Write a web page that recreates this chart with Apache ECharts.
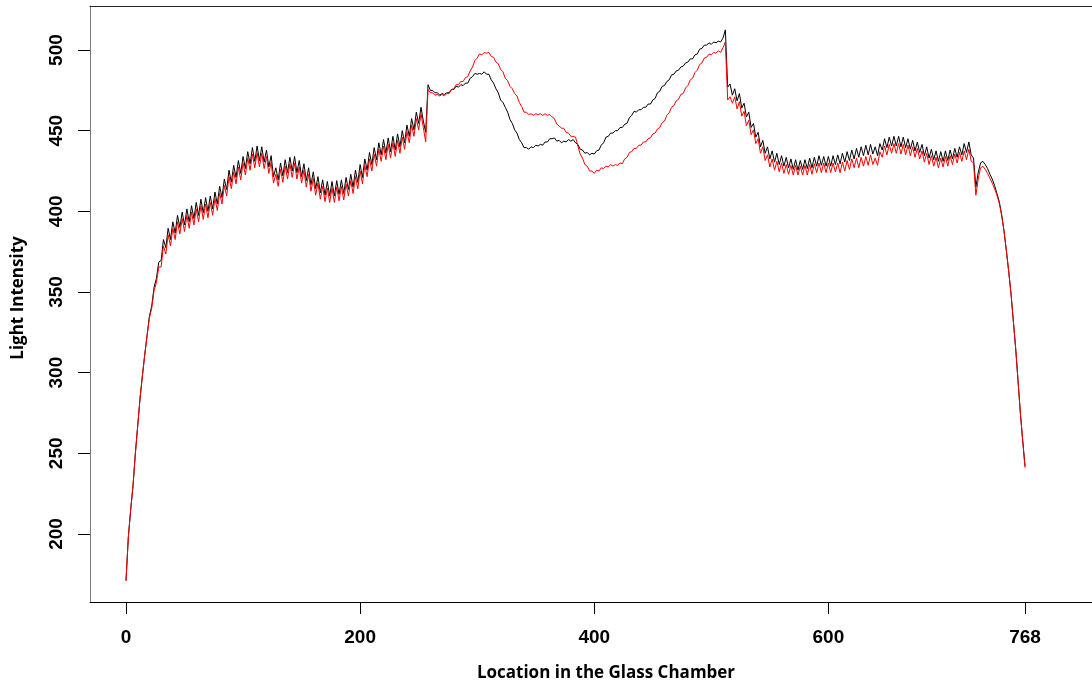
<!DOCTYPE html>
<html>
<head>
<meta charset="utf-8">
<script src="https://cdn.jsdelivr.net/npm/echarts@6/dist/echarts.min.js"></script>
<style>
  html, body { margin: 0; padding: 0; background: #fff; }
  #chart { width: 1092px; height: 683px; }
</style>
</head>
<body>
<div id="chart"></div>
<script>
// Light intensity sampled every STEP units along the glass chamber (0 .. 768)
const STEP = 2;
const xTicks = [0, 200, 400, 600, 768];
const yTicks = [200, 250, 300, 350, 400, 450, 500];
const xTitle = 'Location in the Glass Chamber';
const yTitle = 'Light Intensity';

// first measurement (black)
const intensityA = [
  171,198,215,230,250,267,284,298,311,323,
  335,341.5,353,358.5,368.5,369.5,382.5,377.5,389.5,382.5,
  393.5,386.5,397.5,390,399.5,391.5,401.5,393.5,403.5,395.5,
  405.5,397.5,407.5,399,408.5,400,409.5,401.5,412,404.5,
  415.5,408.5,420,413.5,425.5,418,428.5,421,431.5,423.5,
  434,426.5,437,429.5,439.5,431,440.5,431.5,440,430.5,
  438,427.5,434.5,421.5,427,419.5,430,422,432,424,
  433.5,425,434,424,431.5,421.5,429.5,419,427,416.5,
  424.5,414,421.5,411.5,419.5,410,418.5,409.5,418.5,409.5,
  419,410.5,419.5,411,421,413.5,423,415,425.5,418,
  429,421,432.5,425.5,436.5,429,439.5,432,442.5,435,
  444.5,436,445.5,437,446.5,438,448,440,450,442.5,
  453.5,446.5,457.5,450.5,461.5,454.5,464.5,456,449,478.5,
  475,475,473.5,473.5,472,473,472.5,473.5,473.5,475.5,
  475.5,477.5,477,478.5,478,479.5,479.5,482.5,483.5,485.5,
  485,485.5,485,486.5,485,485,481.5,479.5,476,473.5,
  469,467.5,464.5,461.5,457,454.5,450.5,448.5,444.5,442.5,
  439.5,439.5,438.5,440,439.5,441,440.5,441.5,441,443,
  443,445,445,445.5,443.5,444,442.5,443.5,443,444.5,
  443.5,444.5,442.5,441.5,438.5,438,436,436.5,435,436,
  435.5,437.5,438,441,442.5,446,446.5,448.5,448.5,450,
  450,452,452,454,454.5,458,459.5,462,461.5,463,
  463,464.5,464.5,466.5,466.5,469,470,473.5,474.5,477.5,
  478,480.5,481.5,484.5,485,487,487.5,489.5,490,492,
  492.5,494.5,494.5,497,497.5,500.5,501,503,503,504.5,
  503.5,505,504.5,505.5,505,507.5,512.5,477,479,472,
  476,468.5,473,464,467,458.5,461.5,452,454.5,446,
  449,440,444,436,440,432.5,437.5,430.5,436,429,
  434.5,428,433.5,427,432.5,426,432,425.5,431.5,426,
  432,426.5,433,427,433.5,428,434.5,428.5,434,428,
  434,428,434.5,429,435,429.5,436,430.5,437,431.5,
  438,432.5,439,433.5,440,434.5,441,435,441.5,435.5,
  440,434.5,442,438,445,439.5,446,440.5,446.5,440.5,
  446.5,440,446,439.5,445,438.5,444,437.5,443,436.5,
  441.5,434.5,440,433,438.5,432,437.5,431,437,431,
  437.5,431.5,438,432.5,439,433.5,440,435,442,436.5,
  443,435,433,415,424,430,431,429,426.5,423,
  420,416,411,406,398,388,376,363,349,332,
  315,295,275,258,242
];

// second measurement (red)
const intensityB = [
  171,198,215,230,250,267,284,298,311,323,
  334,340,351,356,365.5,365.5,378.5,373.5,385.5,378.5,
  389.5,382.5,393.5,386,395.5,387.5,397.5,389.5,399.5,391.5,
  401.5,393.5,403.5,395,404.5,396,405.5,397.5,408,400.5,
  411.5,404.5,416,409.5,421.5,414,424.5,417,427.5,419.5,
  430,422.5,433,425.5,435.5,427,436.5,427.5,436,426.5,
  434,423.5,430.5,417.5,423,415.5,426,418,428,420,
  429.5,421,430,420,427.5,417.5,425.5,415,423,412.5,
  420.5,410,417.5,407.5,415.5,406,414.5,405.5,414.5,405.5,
  415,406.5,415.5,407,417,409.5,419,411,421.5,414,
  425,417,428.5,421.5,432.5,425,435.5,428,438.5,431,
  440.5,432,441.5,433,442.5,434,444,436,446,438.5,
  449.5,442.5,453.5,446.5,457.5,450.5,460.5,452,443,475.5,
  473.5,473.5,472,472.5,471.5,472.5,471.5,473,473,475.5,
  476,478.5,478.5,480.5,480.5,483,483.5,487,489.5,493.5,
  495,497.5,497,498.5,498,498.5,496,495.5,492.5,491.5,
  488,486.5,482.5,481,477.5,476,473,471.5,467.5,465,
  461.5,461.5,460,460.5,459.5,460.5,460,460.5,459.5,460.5,
  459.5,460,458.5,457.5,454,453,451.5,451.5,449,448.5,
  446.5,446.5,446,440.5,435.5,433,429,428,425,425,
  423.5,425.5,425,427,426.5,428,427.5,429,428,429,
  428.5,430,429.5,432.5,433.5,436.5,437,439,439,441,
  441,443,443,445,445.5,448,448.5,451,452,455,
  456,459.5,461,464.5,465.5,468.5,469.5,472.5,473,476.5,
  478,481.5,482.5,486,487.5,491,492,495,495.5,497.5,
  497,498.5,498,499.5,498.5,501.5,505,469,471,467,
  471,463.5,468,459,462,453,456.5,447.5,450.5,442,
  445,436,440,431.5,435,427.5,432.5,425.5,431,424.5,
  430,423.5,429,423,428.5,422.5,428.5,422.5,428,422.5,
  428.5,422.5,429,423,429.5,424,430,424,430,424,
  430,424,430,424.5,430,424,430.5,425,431.5,426,
  432.5,427,433,427,433.5,428,434,428.5,435,429,
  433,428.5,437,433.5,440.5,435,441.5,436,442,436,
  442,435.5,441.5,435,441,434.5,440,433.5,439,432.5,
  437.5,430.5,436,429,434.5,428,433.5,427,433,427.5,
  434,428,434.5,429,435.5,430,436.5,431,437.5,432,
  438.5,431,430,410,420,427,428,426,423.5,420.5,
  417.5,414,410,405,397.5,388,376,363,349,332,
  315,295,275,258,241
];

const toPoints = arr => arr.map((v, i) => [i * STEP, v]);

const tickFont = { fontFamily: 'Liberation Sans', fontWeight: 'bold', fontSize: 19, color: '#000' };

const chart = echarts.init(document.getElementById('chart'), null, { renderer: 'canvas' });

chart.setOption({
  animation: false,
  backgroundColor: '#fff',
  grid: { left: 90, right: 0, top: 6, bottom: 81, containLabel: false },
  xAxis: [
    {
      type: 'value',
      min: -30.75,
      max: 825.2,
      position: 'bottom',
      splitLine: { show: false },
      axisLine: { show: true, onZero: false, lineStyle: { color: '#000', width: 1 } },
      axisTick: { show: true, customValues: xTicks, length: 12, inside: false, lineStyle: { color: '#000' } },
      axisLabel: Object.assign({ customValues: xTicks, margin: 26 }, tickFont)
    },
    {
      type: 'value',
      min: -30.75,
      max: 825.2,
      position: 'top',
      splitLine: { show: false },
      axisLine: { show: true, onZero: false, lineStyle: { color: '#222', width: 1 } },
      axisTick: { show: false },
      axisLabel: { show: false }
    }
  ],
  yAxis: {
    type: 'value',
    min: 157.8,
    max: 527.3,
    splitLine: { show: false },
    axisLine: { show: true, onZero: false, lineStyle: { color: '#777', width: 1 } },
    axisTick: { show: true, customValues: yTicks, length: 12, lineStyle: { color: '#000' } },
    axisLabel: Object.assign({ customValues: yTicks, rotate: 90, margin: 24 }, tickFont)
  },
  graphic: [
    {
      type: 'text',
      x: 606, y: 673,
      style: {
        text: xTitle, align: 'center', verticalAlign: 'middle',
        font: 'bold 17px "Open Sans"', fill: '#000'
      }
    },
    {
      type: 'text',
      x: 18, y: 298,
      rotation: Math.PI / 2,
      style: {
        text: yTitle, align: 'center', verticalAlign: 'middle',
        font: 'bold 17px "Open Sans"', fill: '#000'
      }
    }
  ],
  series: [
    {
      name: 'A', type: 'line', xAxisIndex: 0,
      data: toPoints(intensityA),
      showSymbol: false, symbol: 'none',
      lineStyle: { color: '#000000', width: 1 },
      silent: true
    },
    {
      name: 'B', type: 'line', xAxisIndex: 0,
      data: toPoints(intensityB),
      showSymbol: false, symbol: 'none',
      lineStyle: { color: '#ff0000', width: 1 },
      silent: true
    }
  ]
});
</script>
</body>
</html>
